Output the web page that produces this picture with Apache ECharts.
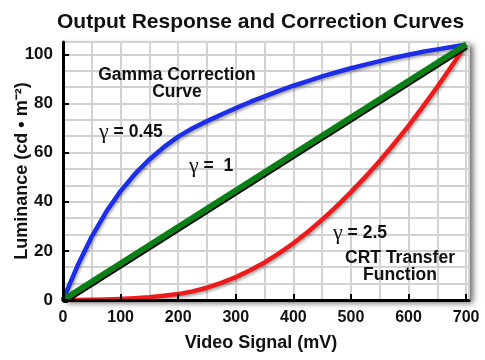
<!DOCTYPE html>
<html><head><meta charset="utf-8">
<script src="https://cdn.jsdelivr.net/npm/echarts@6/dist/echarts.min.js"></script>
<style>html,body{margin:0;padding:0;background:#fff}#c{width:485px;height:360px}</style>
</head><body><div id="c"></div>
<script>
const titleText = 'Output Response and Correction Curves';
const xName = 'Video Signal (mV)';
const yName = 'Luminance (cd \u2022 m\u207B\u00B2)';
const blueX = [0, 25, 50, 75, 100, 125, 150, 175, 200, 225, 250, 275, 300, 325, 350, 375, 400, 425, 450, 475, 500, 525, 550, 575, 600, 625, 650, 675, 700];
const blueY = [0, 13.8, 25.8, 35.9, 44.3, 51.3, 57.2, 62.2, 66.5, 69.9, 72.8, 75.5, 78.1, 80.6, 82.9, 85.1, 87.2, 89.1, 91.0, 92.7, 94.3, 95.8, 97.2, 98.6, 99.8, 101.0, 102.0, 103.0, 104];
const greenX = [0, 700];
const greenY = [0, 104];
const redX = [0, 25, 50, 75, 100, 125, 150, 175, 200, 225, 250, 275, 300, 325, 350, 375, 400, 425, 450, 475, 500, 525, 550, 575, 600, 625, 650, 675, 700];
const redY = [0, 0, 0.1, 0.2, 0.4, 0.7, 1.1, 1.7, 2.4, 3.5, 5.0, 7.0, 9.3, 12.1, 15.3, 19.0, 23.1, 27.7, 32.7, 38.1, 43.9, 50.1, 56.6, 63.6, 70.9, 78.7, 86.8, 95.2, 104];
const labels = [
  {t: 'Gamma Correction\nCurve', x: 177, y: 84, align: 'center'},
  {t: '{g|\u03B3} = 0.45', x: 99, y: 132, align: 'left'},
  {t: '{g|\u03B3} =  1', x: 189, y: 166, align: 'left'},
  {t: '{g|\u03B3} = 2.5', x: 333, y: 233, align: 'left'},
  {t: 'CRT Transfer\nFunction', x: 400, y: 267, align: 'center'}
];
const F = "'Liberation Sans', Arial, sans-serif";
const zip = (a, b) => a.map((v, i) => [v, b[i]]);
const chart = echarts.init(document.getElementById('c'));
const gridAxisX = {type: 'value', min: 0, max: 705, interval: 50, gridIndex: 0,
  axisLine: {show: false}, axisTick: {show: false}, axisLabel: {show: false},
  splitLine: {show: true, lineStyle: {color: '#d2d2d2', width: 2}}};
const gridAxisY = {type: 'value', min: 0, max: 105, interval: 20 / 3, gridIndex: 0,
  axisLine: {show: false}, axisTick: {show: false}, axisLabel: {show: false},
  splitLine: {show: true, lineStyle: {color: '#d2d2d2', width: 2}}};
chart.setOption({
  backgroundColor: '#fff',
  animation: false,
  title: {text: titleText, left: 52, top: 7,
    textStyle: {fontFamily: F, fontWeight: 'bold', fontSize: 21, color: '#111'}},
  grid: {left: 63, right: 16, top: 42, bottom: 60, show: true, backgroundColor: '#fff',
    containLabel: false, outerBoundsMode: 'none',
    borderWidth: 0, shadowColor: 'rgba(0,0,0,0.6)', shadowBlur: 6, shadowOffsetX: 4, shadowOffsetY: 3},
  xAxis: [
    {type: 'value', min: 0, max: 705, interval: 100,
      name: xName, nameLocation: 'middle', nameGap: 34, nameMoveOverlap: false,
      nameTextStyle: {fontFamily: F, fontWeight: 'bold', fontSize: 18, color: '#111', padding: [0, 10, 0, 0]},
      axisLine: {show: true, lineStyle: {color: '#000', width: 3}},
      axisTick: {show: true, inside: true, length: 6, lineStyle: {color: '#000', width: 2}},
      axisLabel: {fontFamily: F, fontWeight: 'bold', fontSize: 16, color: '#111', margin: 10, showMaxLabel: false},
      splitLine: {show: false}, z: 5},
    gridAxisX
  ],
  yAxis: [
    {type: 'value', min: 0, max: 105, interval: 20,
      name: yName, nameLocation: 'middle', nameGap: 32, nameRotate: 90, nameMoveOverlap: false,
      nameTextStyle: {fontFamily: F, fontWeight: 'bold', fontSize: 18, color: '#111'},
      axisLine: {show: true, lineStyle: {color: '#000', width: 3}},
      axisTick: {show: true, inside: true, length: 6, lineStyle: {color: '#000', width: 2}},
      axisLabel: {fontFamily: F, fontWeight: 'bold', fontSize: 17, color: '#111', margin: 10, showMaxLabel: false},
      splitLine: {show: false}, z: 5},
    gridAxisY
  ],
  series: [
    {type: 'line', data: zip(blueX, blueY), smooth: false, symbol: 'none', xAxisIndex: 0, yAxisIndex: 0,
      lineStyle: {color: '#1e2ee6', width: 4.5, join: 'round', shadowColor: 'rgba(0,0,0,0.35)', shadowBlur: 3, shadowOffsetX: 1, shadowOffsetY: 2}, z: 3},
    {type: 'line', data: zip(redX, redY), smooth: false, symbol: 'none', xAxisIndex: 0, yAxisIndex: 0,
      lineStyle: {color: '#ec1c1c', width: 4.5, join: 'round', shadowColor: 'rgba(0,0,0,0.35)', shadowBlur: 3, shadowOffsetX: 1, shadowOffsetY: 2}, z: 3},
    {type: 'line', data: zip(greenX, greenY), symbol: 'none', xAxisIndex: 0, yAxisIndex: 0,
      lineStyle: {color: '#0a7f16', width: 6, shadowColor: '#000', shadowBlur: 0, shadowOffsetX: 0, shadowOffsetY: 2}, z: 4}
  ],
  graphic: labels.map(l => ({type: 'text', x: l.x, y: l.y,
    style: {text: l.t, fontFamily: F, fontWeight: 'bold', fontSize: 17.5, fill: '#111', align: l.align, verticalAlign: 'middle', lineHeight: 17,
      rich: {g: {fontFamily: "'Liberation Serif', 'DejaVu Serif', serif", fontWeight: 'normal', fontSize: 22, fill: '#111'}}}, z: 10}))
});
</script></body></html>
